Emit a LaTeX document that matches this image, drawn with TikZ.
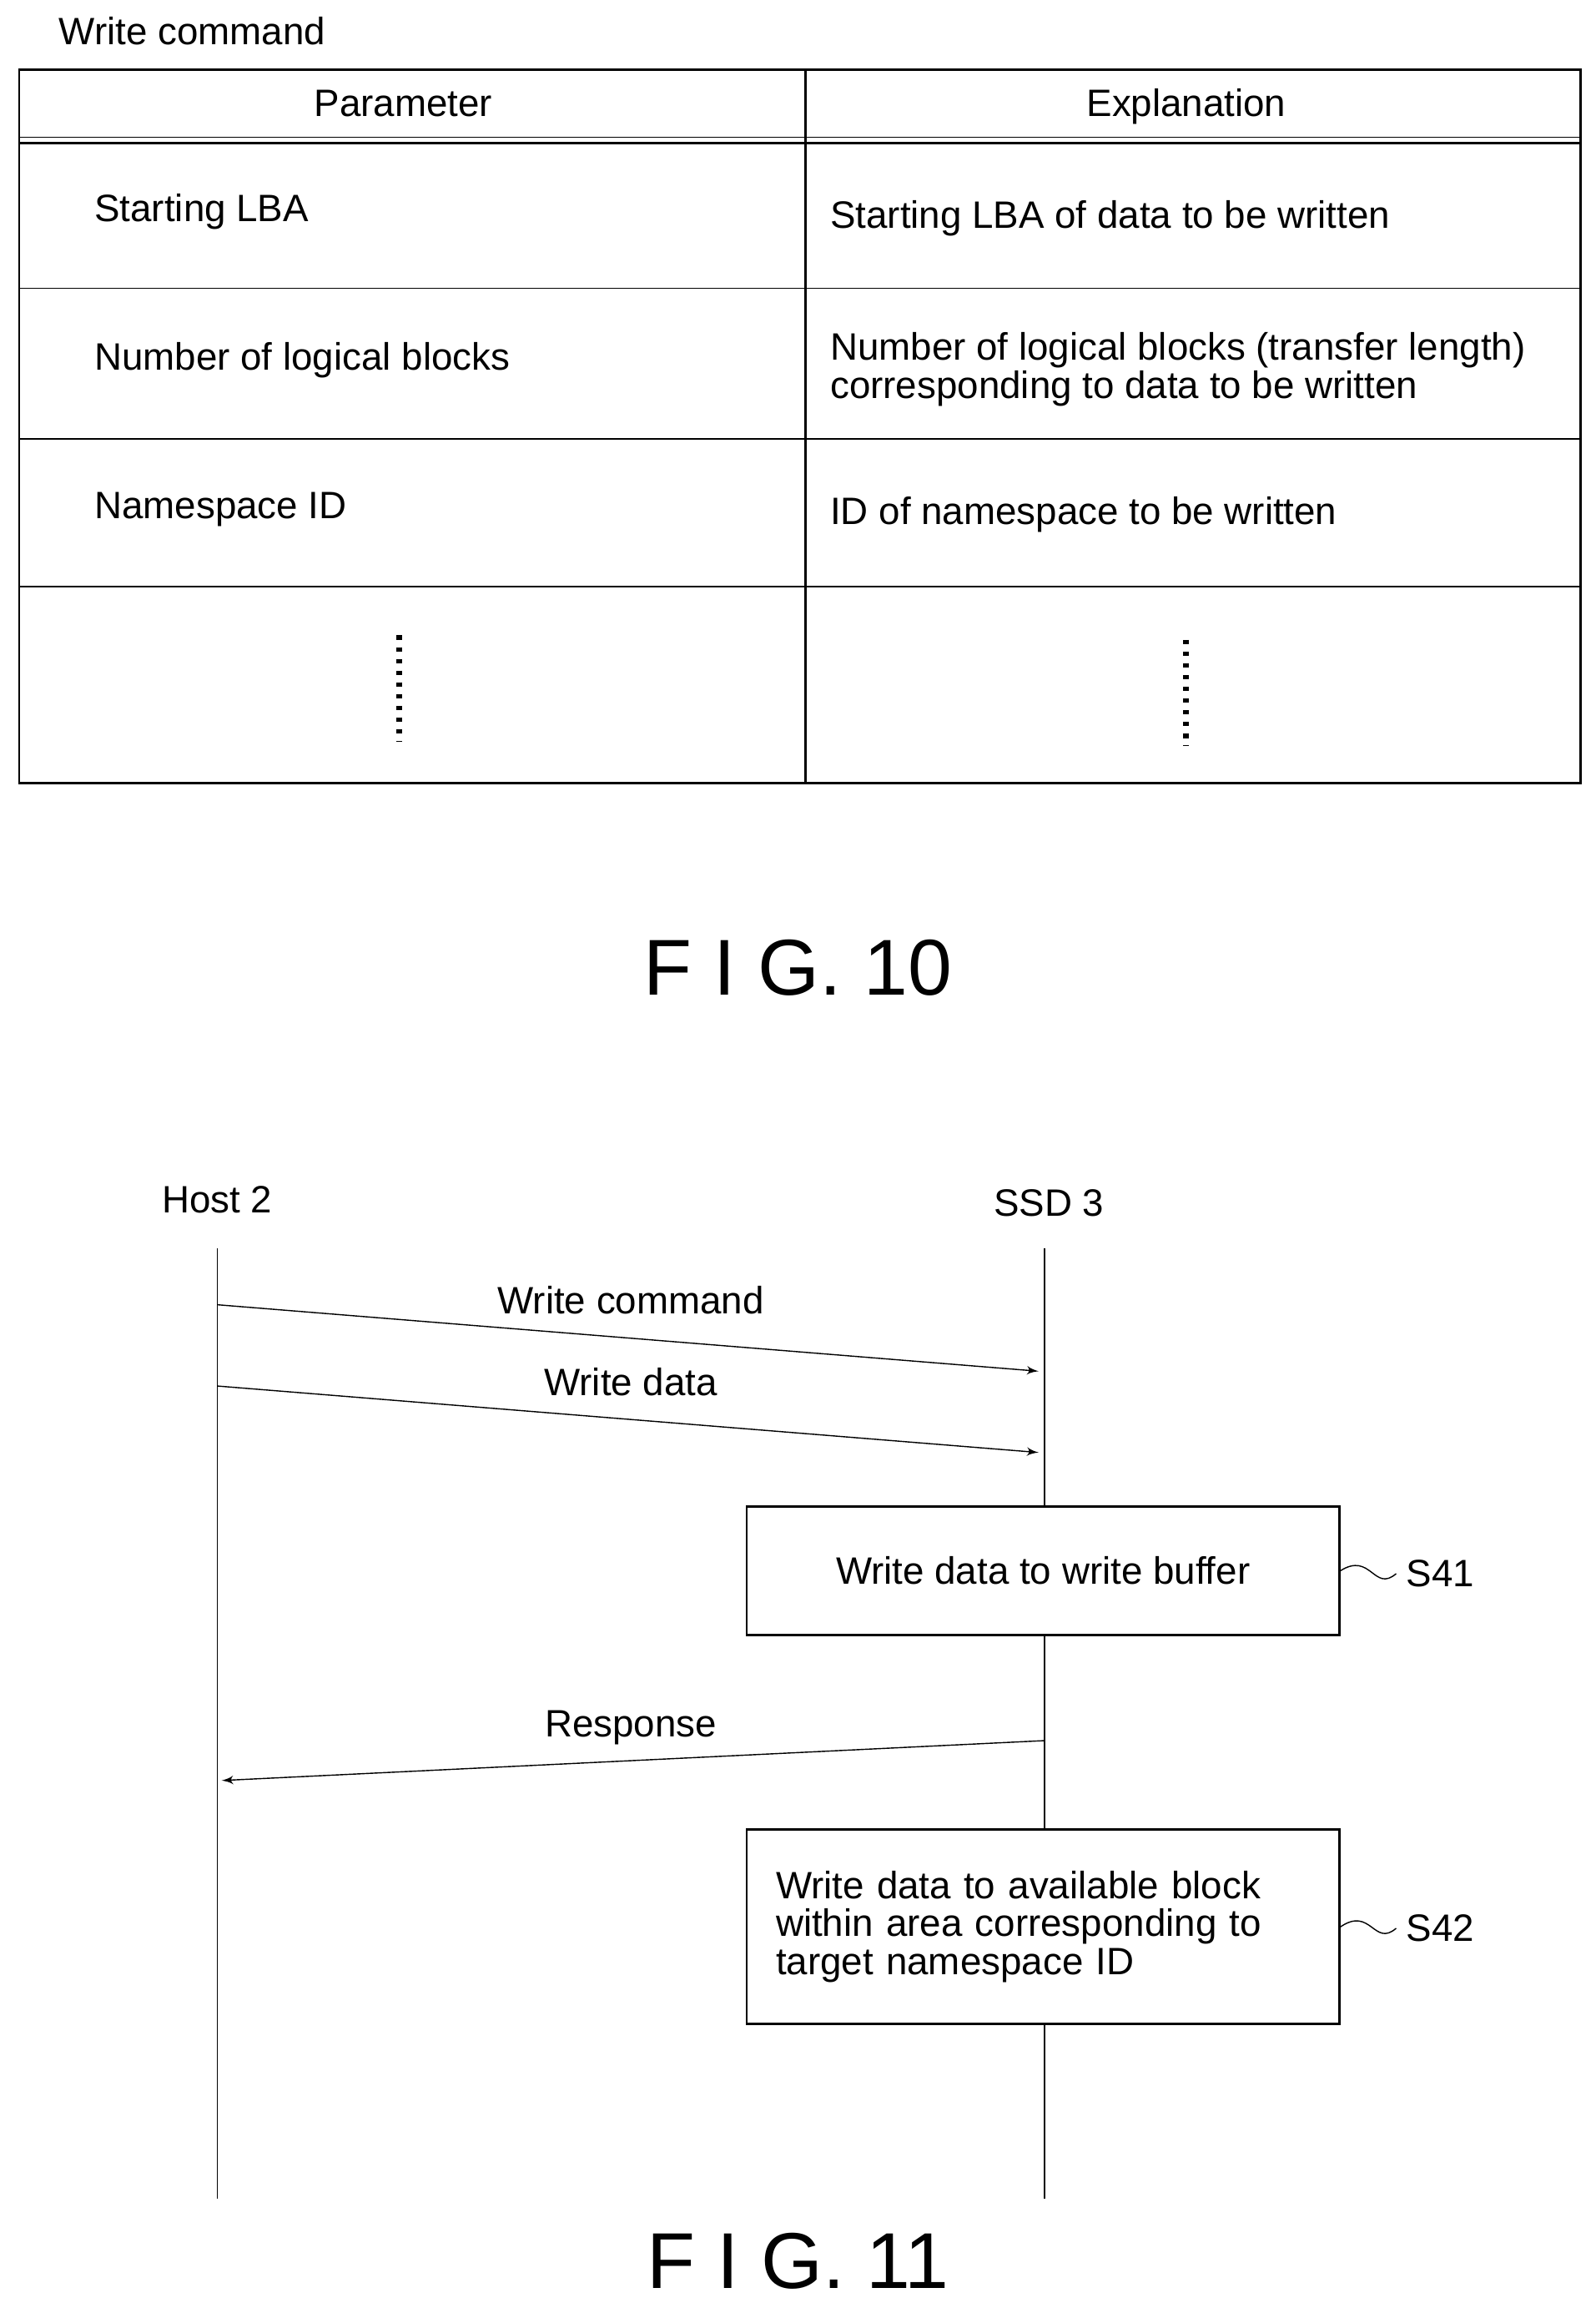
\documentclass[tikz,border=0pt]{standalone}
\usepackage{fontspec}
\setmainfont{Liberation Sans}
\usetikzlibrary{arrows}
\tikzset{
  >=latex',
  cell/.style = {font=\fontsize{13}{16}\selectfont, anchor=west, align=left},
  head/.style = {font=\fontsize{13}{16}\selectfont},
  procbox/.style = {draw, thick, fill=white, minimum width=7.1cm, align=left,
                 font=\fontsize{13}{15}\selectfont},
  msg/.style = {font=\fontsize{13}{16}\selectfont},
  figlabel/.style = {font=\fontsize{27}{30}\selectfont},
}
\begin{document}
\begin{tikzpicture}[x=0.0177cm,y=-0.0177cm]
    \useasboundingbox (0,0) rectangle (1080,1562);
    % table of FIG. 10
    \node[cell,anchor=base west] (title) at (33,30) {Write command};
    \draw[thick] (13,47) rectangle (1070,530);
    \draw[thick] (545,47) -- (545,530);
    \draw (13,93) -- (1070,93);
    \draw[thick] (13,97) -- (1070,97);
    \foreach \y in {195,297,397} \draw (13,\y) -- (1070,\y);
    \node[head] (par) at (273,70) {Parameter};
    \node[head] (expl) at (803,72) {Explanation};
    \node[cell] (lba) at (57,143) {Starting LBA};
    \node[cell] (nlb) at (57,244) {Number of logical blocks};
    \node[cell] (nsid) at (57,345) {Namespace ID};
    \node[cell] (elba) at (555,148) {Starting LBA of data to be written};
    \node[cell] (enlb) at (555,250) {Number of logical blocks (transfer length)\\[-3pt]corresponding to data to be written};
    \node[cell] (ensid) at (555,348) {ID of namespace to be written};
    \draw[line width=2pt, dash pattern=on 1.5pt off 2.5pt] (270,430) -- (270,502);
    \draw[line width=2pt, dash pattern=on 1.5pt off 2.5pt] (803,433) -- (803,505);
    \node[figlabel] (fig10) at (540,655) {F I G. 10};
    % sequence of FIG. 11
    \node[msg] (host) at (147,812) {Host 2};
    \node[msg] (ssd) at (710,814) {SSD 3};
    \coordinate (ht) at (147,845); \coordinate (hb) at (147,1488);
    \coordinate (st) at (707,845); \coordinate (sb) at (707,1488);
    \draw (ht) -- (hb);
    \draw (st) -- (sb);
    \coordinate (c1) at (147,883); \coordinate (c2) at (703,928);
    \coordinate (d1) at (147,938); \coordinate (d2) at (703,983);
    \coordinate (r1) at (707,1178); \coordinate (r2) at (150,1205);
    \draw[->] (c1) -- (c2);
    \draw[->] (d1) -- (d2);
    \draw[->] (r1) -- (r2);
    \node[msg] (wcmd) at (427,880) {Write command};
    \node[msg] (wdat) at (427,935) {Write data};
    \node[msg] (resp) at (427,1169) {Response};
    \node[procbox, minimum height=1.54cm, align=center] (s41) at (706,1063) {Write data to write buffer};
    \node[procbox, minimum height=2.33cm, text width=6.4cm] (s42) at (706,1304) {Write data to available block\\[-2pt]within area corresponding to\\[-2pt]target namespace ID};
    \node[msg] (l41) at (975,1065) {S41};
    \node[msg] (l42) at (975,1305) {S42};
    \draw (s41.east) .. controls (928,1050) and (930,1078) .. (l41.west);
    \draw (s42.east) .. controls (928,1290) and (930,1318) .. (l42.west);
    \node[figlabel] (fig11) at (540,1530) {F I G. 11};
\end{tikzpicture}
\end{document}
